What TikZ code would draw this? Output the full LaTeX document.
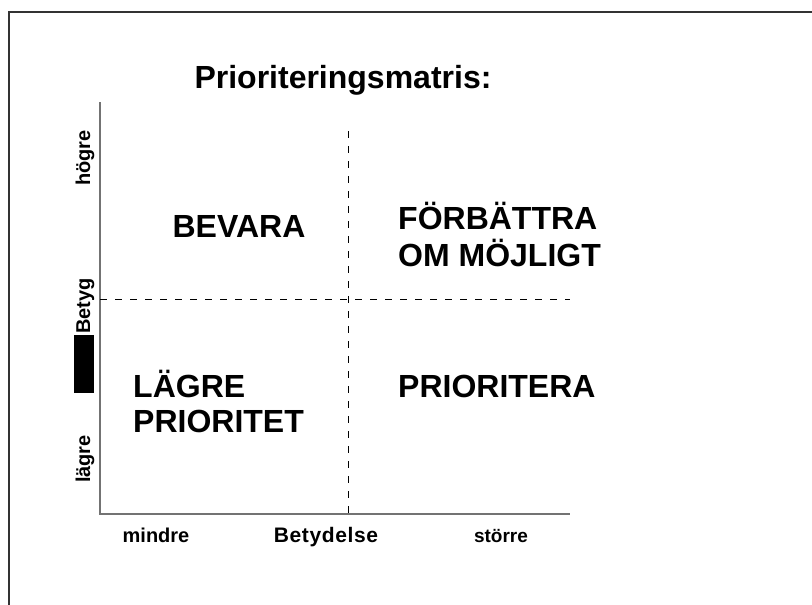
\documentclass[tikz,border=0pt]{standalone}
\usepackage{fontspec}
\setmainfont{Liberation Sans}
\begin{document}
\begin{tikzpicture}[x=1pt,y=-1pt,
  frameline/.style={draw=black!80,line width=2pt},
  axisline/.style={draw=black!55,line width=1.3pt},
  divline/.style={draw=black,line width=0.9pt,dash pattern=on 7pt off 8pt},
  bigtxt/.style={font=\bfseries\fontsize{32}{36}\selectfont,inner sep=0pt},
  axtxt/.style={font=\bfseries\fontsize{20}{24}\selectfont,inner sep=0pt},
  smtxt/.style={font=\bfseries\fontsize{19}{23}\selectfont,inner sep=0pt}]
\useasboundingbox (0,0) rectangle (812,605);
\fill[white] (0,0) rectangle (812,605);
% frame
\coordinate (fbl) at (9,606);
\coordinate (ftl) at (9,12);
\coordinate (ftr) at (813,12);
\draw[frameline] (fbl) -- (ftl) -- (ftr);
% axes
\coordinate (ytop) at (100,102);
\coordinate (orig) at (100,514);
\coordinate (xend) at (570,514);
\draw[axisline] (ytop) -- (orig) -- (xend);
% dividers
\coordinate (vtop) at (348,131);
\coordinate (vbot) at (348,514);
\coordinate (hl) at (100,299);
\coordinate (hr) at (570,299);
\draw[divline] (vtop) -- (vbot);
\draw[divline] (hl) -- (hr);
% title
\node[bigtxt,anchor=base] (title) at (343,88) {Prioriteringsmatris:};
% quadrants
\node[bigtxt,anchor=base] (bevara) at (239,237) {BEVARA};
\node[bigtxt,anchor=base west] (forb1) at (398,229) {FÖRBÄTTRA};
\node[bigtxt,anchor=base west] (forb2) at (398,266) {OM MÖJLIGT};
\node[bigtxt,anchor=base west] (lag1) at (133,397) {LÄGRE};
\node[bigtxt,anchor=base west] (lag2) at (133,432) {PRIORITET};
\node[bigtxt,anchor=base west] (prio) at (398,397) {PRIORITERA};
% x axis labels
\node[axtxt,anchor=base] (mindre) at (156,542) {mindre};
\node[inner sep=0pt,anchor=base,font=\bfseries\fontsize{21}{24}\selectfont\addfontfeatures{LetterSpace=3}] (betyd) at (326,542) {Betydelse};
\node[smtxt,anchor=base] (storre) at (501,542) {större};
% y axis labels
\node[axtxt,anchor=base,rotate=90] (hogre) at (90,158) {högre};
\node[axtxt,anchor=base,rotate=90] (betyg) at (90,306) {Betyg};
\node[axtxt,anchor=base,rotate=90] (lagre) at (90,459) {lägre};
\fill[black] (74,335) rectangle (94,393);
\end{tikzpicture}
\end{document}
